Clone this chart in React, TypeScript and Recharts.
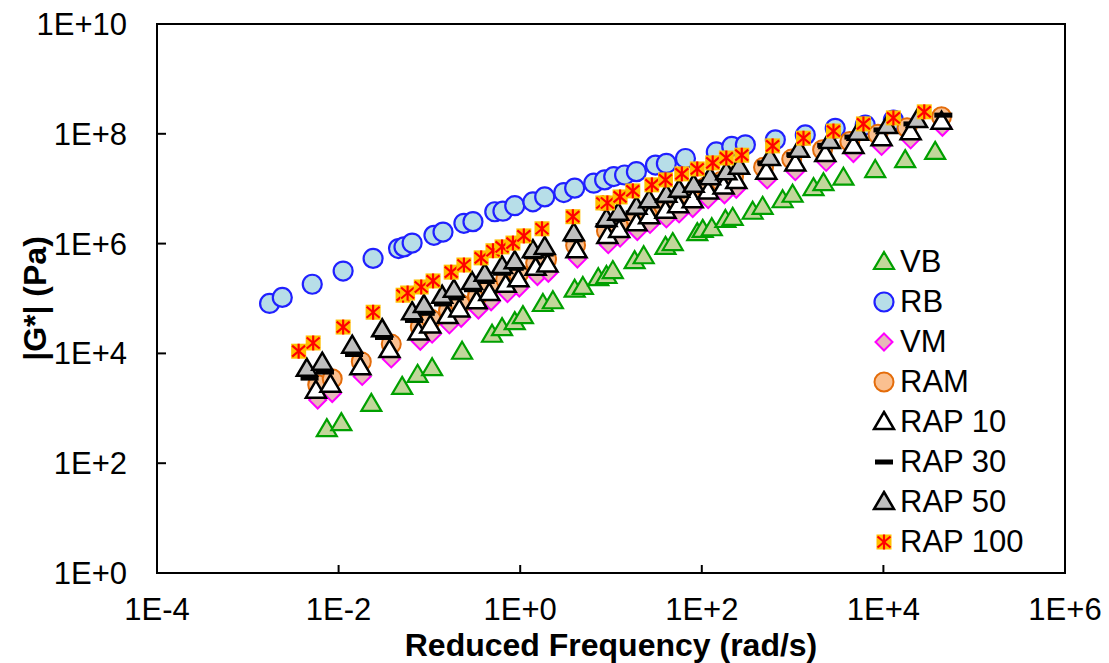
import React from "react";
import { ScatterChart, Scatter, XAxis, YAxis, ReferenceArea, Legend } from "recharts";

// every point is [log10 reduced frequency (rad/s), log10 |G*| (Pa)]
type Pt = [number, number];

const vb: Pt[] = [
  [-2.13, 2.62], [-1.97, 2.73], [-1.64, 3.08], [-1.30, 3.39], [-1.13, 3.61], [-0.97, 3.73],
  [-0.64, 4.03], [-0.31, 4.34], [-0.20, 4.46], [-0.06, 4.57], [0.03, 4.68], [0.25, 4.90],
  [0.36, 4.95], [0.60, 5.16], [0.69, 5.21], [0.86, 5.37], [0.95, 5.41], [1.02, 5.50],
  [1.26, 5.68], [1.36, 5.77], [1.60, 5.94], [1.68, 6.01], [1.95, 6.19], [2.01, 6.25],
  [2.11, 6.28], [2.26, 6.43], [2.34, 6.47], [2.56, 6.58], [2.67, 6.67], [2.89, 6.79],
  [3.00, 6.89], [3.23, 7.01], [3.34, 7.10], [3.56, 7.20], [3.91, 7.34], [4.24, 7.52], [4.57, 7.67],
];

const rb: Pt[] = [
  [-2.76, 4.91], [-2.62, 5.02], [-2.29, 5.26], [-1.95, 5.50], [-1.62, 5.73], [-1.34, 5.91],
  [-1.28, 5.94], [-1.19, 6.01], [-0.95, 6.15], [-0.85, 6.21], [-0.62, 6.37], [-0.52, 6.40],
  [-0.28, 6.58], [-0.19, 6.59], [-0.06, 6.69], [0.14, 6.76], [0.27, 6.85], [0.48, 6.93],
  [0.60, 7.01], [0.81, 7.10], [0.93, 7.16], [1.03, 7.22], [1.15, 7.25], [1.28, 7.31],
  [1.49, 7.43], [1.61, 7.46], [1.82, 7.55], [2.16, 7.67], [2.33, 7.77], [2.48, 7.80],
  [2.81, 7.89], [3.14, 7.98], [3.47, 8.10], [3.80, 8.16], [4.11, 8.25],
];

const vm: Pt[] = [
  [-2.23, 3.15], [-2.07, 3.27], [-1.74, 3.58], [-1.42, 3.90], [-1.10, 4.22], [-0.97, 4.35],
  [-0.78, 4.52], [-0.65, 4.64], [-0.46, 4.79], [-0.32, 4.94], [-0.14, 5.09], [-0.01, 5.19],
  [0.19, 5.40], [0.31, 5.46], [0.63, 5.72], [0.97, 5.98], [1.10, 6.10], [1.29, 6.22],
  [1.43, 6.35], [1.61, 6.45], [1.75, 6.54], [1.90, 6.64], [2.07, 6.80], [2.25, 6.89],
  [2.38, 6.99], [2.72, 7.16], [3.03, 7.31], [3.37, 7.48], [3.67, 7.64], [3.98, 7.77],
  [4.30, 7.89], [4.65, 8.12],
];

const ram: Pt[] = [
  [-2.23, 3.43], [-2.07, 3.54], [-1.75, 3.85], [-1.42, 4.17], [-1.10, 4.48], [-0.98, 4.62],
  [-0.79, 4.78], [-0.66, 4.90], [-0.47, 5.05], [-0.34, 5.20], [-0.16, 5.35], [-0.02, 5.45],
  [0.17, 5.65], [0.29, 5.71], [0.61, 5.97], [0.95, 6.23], [1.08, 6.34], [1.27, 6.46],
  [1.40, 6.59], [1.58, 6.69], [1.72, 6.78], [1.87, 6.88], [2.04, 7.03], [2.21, 7.13],
  [2.35, 7.22], [2.68, 7.39], [2.99, 7.54], [3.33, 7.71], [3.63, 7.86], [3.94, 7.99],
  [4.26, 8.11], [4.64, 8.31],
];

const rap10: Pt[] = [
  [-2.25, 3.32], [-2.09, 3.43], [-1.76, 3.75], [-1.44, 4.06], [-1.12, 4.38], [-0.99, 4.51],
  [-0.80, 4.68], [-0.67, 4.80], [-0.48, 4.95], [-0.34, 5.10], [-0.16, 5.25], [-0.02, 5.35],
  [0.17, 5.56], [0.30, 5.62], [0.62, 5.88], [0.96, 6.14], [1.09, 6.25], [1.28, 6.37],
  [1.42, 6.50], [1.60, 6.60], [1.74, 6.70], [1.90, 6.79], [2.07, 6.95], [2.24, 7.04],
  [2.38, 7.14], [2.71, 7.31], [3.03, 7.46], [3.36, 7.63], [3.67, 7.78], [3.98, 7.92],
  [4.30, 8.03], [4.64, 8.22],
];

const rap30: Pt[] = [
  [-2.32, 3.55], [-2.15, 3.66], [-1.83, 3.98], [-1.50, 4.29], [-1.17, 4.60], [-1.04, 4.73],
  [-0.85, 4.90], [-0.72, 5.01], [-0.52, 5.16], [-0.38, 5.31], [-0.20, 5.46], [-0.06, 5.55],
  [0.14, 5.76], [0.27, 5.81], [0.59, 6.07], [0.93, 6.33], [1.06, 6.44], [1.26, 6.56],
  [1.40, 6.69], [1.58, 6.78], [1.72, 6.87], [1.89, 6.97], [2.06, 7.12], [2.23, 7.21],
  [2.37, 7.30], [2.71, 7.47], [3.03, 7.62], [3.37, 7.79], [3.67, 7.94], [3.99, 8.07],
  [4.32, 8.18], [4.66, 8.34],
];

const rap50: Pt[] = [
  [-2.35, 3.72], [-2.18, 3.83], [-1.85, 4.14], [-1.52, 4.44], [-1.19, 4.75], [-1.06, 4.88],
  [-0.86, 5.05], [-0.73, 5.16], [-0.53, 5.30], [-0.39, 5.45], [-0.20, 5.59], [-0.06, 5.68],
  [0.14, 5.88], [0.27, 5.94], [0.59, 6.19], [0.95, 6.45], [1.08, 6.56], [1.28, 6.67],
  [1.42, 6.79], [1.61, 6.89], [1.75, 6.98], [1.91, 7.07], [2.09, 7.21], [2.27, 7.30],
  [2.41, 7.40], [2.75, 7.56], [3.07, 7.71], [3.41, 7.87], [3.72, 8.02], [4.04, 8.14], [4.37, 8.25],
];

const rap100: Pt[] = [
  [-2.44, 4.04], [-2.28, 4.19], [-1.95, 4.48], [-1.62, 4.75], [-1.29, 5.06], [-1.24, 5.10],
  [-1.09, 5.21], [-0.96, 5.32], [-0.76, 5.48], [-0.62, 5.61], [-0.43, 5.74], [-0.30, 5.87],
  [-0.20, 5.94], [-0.08, 6.01], [0.04, 6.14], [0.24, 6.27], [0.58, 6.49], [0.91, 6.74],
  [0.96, 6.74], [1.10, 6.85], [1.24, 6.96], [1.45, 7.07], [1.60, 7.16], [1.78, 7.27],
  [1.95, 7.36], [2.12, 7.47], [2.27, 7.56], [2.44, 7.61], [2.78, 7.78], [3.12, 7.92],
  [3.45, 8.05], [3.78, 8.18], [4.11, 8.29], [4.45, 8.40],
];

const xTicks = [-4, -2, 0, 2, 4, 6];
const yTicks = [0, 2, 4, 6, 8, 10];

// legend order = drawing order (last one on top)
const series: { name: string; pts: Pt[] }[] = [
  { name: "VB", pts: vb },
  { name: "RB", pts: rb },
  { name: "VM", pts: vm },
  { name: "RAM", pts: ram },
  { name: "RAP 10", pts: rap10 },
  { name: "RAP 30", pts: rap30 },
  { name: "RAP 50", pts: rap50 },
  { name: "RAP 100", pts: rap100 },
];

const FONT = "'Liberation Sans', Arial, sans-serif";
const expLabel = (v: number) => (v < 0 ? `1E${v}` : `1E+${v}`);

const tri = (cx: number, cy: number) =>
  `${cx},${cy - 10} ${cx + 10},${cy + 7} ${cx - 10},${cy + 7}`;

function Marker({ kind, cx, cy }: { kind: string; cx: number; cy: number }) {
  switch (kind) {
    case "VB":
      return <polygon points={tri(cx, cy)} fill="#c3d69b" stroke="#00a000" strokeWidth={2.2} />;
    case "RB":
      return <circle cx={cx} cy={cy} r={9.5} fill="#b7dee8" stroke="#2020ff" strokeWidth={2.2} />;
    case "VM":
      return (
        <polygon
          points={`${cx},${cy - 8.5} ${cx + 8.5},${cy} ${cx},${cy + 8.5} ${cx - 8.5},${cy}`}
          fill="#e6b9b8"
          stroke="#ff00ff"
          strokeWidth={2}
        />
      );
    case "RAM":
      return <circle cx={cx} cy={cy} r={9.5} fill="#fac090" stroke="#e46c0a" strokeWidth={2} />;
    case "RAP 10":
      return <polygon points={tri(cx, cy)} fill="#ffffff" stroke="#000" strokeWidth={2.5} />;
    case "RAP 30":
      return <rect x={cx - 9} y={cy - 2.5} width={18} height={5} fill="#000" />;
    case "RAP 50":
      return <polygon points={tri(cx, cy)} fill="#bfbfbf" stroke="#000" strokeWidth={2.5} />;
    default:
      return (
        <g>
          <rect x={cx - 7.5} y={cy - 7.5} width={15} height={15} fill="#ffc000" />
          <g stroke="#ff0000" strokeWidth={2.2}>
            <line x1={cx} y1={cy - 7.5} x2={cx} y2={cy + 7.5} />
            <line x1={cx - 6.5} y1={cy - 5.5} x2={cx + 6.5} y2={cy + 5.5} />
            <line x1={cx + 6.5} y1={cy - 5.5} x2={cx - 6.5} y2={cy + 5.5} />
          </g>
        </g>
      );
  }
}

const XTick = ({ x, y, payload }: any) => (
  <g>
    <line x1={x} y1={y} x2={x} y2={y - 8} stroke="#000" strokeWidth={2} />
    <text x={x} y={y + 47} textAnchor="middle" fontSize={31} fontFamily={FONT} fill="#000">
      {expLabel(payload.value)}
    </text>
  </g>
);

const YTick = ({ x, y, payload }: any) => (
  <g>
    <line x1={x} y1={y} x2={x + 9} y2={y} stroke="#000" strokeWidth={2} />
    <text x={x - 30} y={y + 11} textAnchor="end" fontSize={31} fontFamily={FONT} fill="#000">
      {expLabel(payload.value)}
    </text>
  </g>
);

const XTitle = ({ viewBox }: any) => (
  <text
    x={viewBox.x + viewBox.width / 2}
    y={viewBox.y + 83}
    textAnchor="middle"
    fontSize={32}
    fontWeight="bold"
    fontFamily={FONT}
    fill="#000"
  >
    Reduced Frequency (rad/s)
  </text>
);

const YTitle = ({ viewBox }: any) => {
  const cx = viewBox.x + 35;
  const cy = viewBox.y + viewBox.height / 2;
  return (
    <text
      x={cx}
      y={cy}
      transform={`rotate(-90 ${cx} ${cy})`}
      textAnchor="middle"
      dominantBaseline="central"
      fontSize={32}
      fontWeight="bold"
      fontFamily={FONT}
      fill="#000"
    >
      |G*| (Pa)
    </text>
  );
};

const LegendBox = () => (
  <div style={{ fontFamily: FONT, fontSize: 31, color: "#000" }}>
    {series.map((s) => (
      <div key={s.name} style={{ display: "flex", alignItems: "center", height: 40 }}>
        <svg width={24} height={24} style={{ marginRight: 4 }}>
          <Marker kind={s.name} cx={12} cy={12} />
        </svg>
        <span style={{ lineHeight: "40px", whiteSpace: "nowrap" }}>{s.name}</span>
      </div>
    ))}
  </div>
);

export default function App() {
  return (
    <div style={{ position: "absolute", left: 0, top: 0, background: "#fff" }}>
      <ScatterChart width={1109} height={663} margin={{ top: 24, right: 44, bottom: 0, left: 0 }}>
        <XAxis
          type="number"
          dataKey="x"
          domain={[-4, 6]}
          ticks={xTicks}
          allowDataOverflow
          height={90}
          axisLine={false}
          tickLine={false}
          tickSize={0}
          tickMargin={0}
          tick={<XTick />}
          label={<XTitle />}
        />
        <YAxis
          type="number"
          dataKey="y"
          domain={[0, 10]}
          ticks={yTicks}
          allowDataOverflow
          width={157}
          axisLine={false}
          tickLine={false}
          tickSize={0}
          tickMargin={0}
          tick={<YTick />}
          label={<YTitle />}
        />
        <ReferenceArea x1={-4} x2={6} y1={0} y2={10} fill="none" stroke="#000" strokeWidth={2} />
        {series.map((s) => (
          <Scatter
            key={s.name}
            name={s.name}
            data={s.pts.map(([x, y]) => ({ x, y }))}
            isAnimationActive={false}
            shape={(p: any) => <Marker kind={s.name} cx={p.cx} cy={p.cy} />}
          />
        ))}
        <Legend
          layout="vertical"
          align="center"
          verticalAlign="middle"
          content={<LegendBox />}
          wrapperStyle={{ left: 872, top: 242, width: 220, height: 320 }}
        />
      </ScatterChart>
    </div>
  );
}
